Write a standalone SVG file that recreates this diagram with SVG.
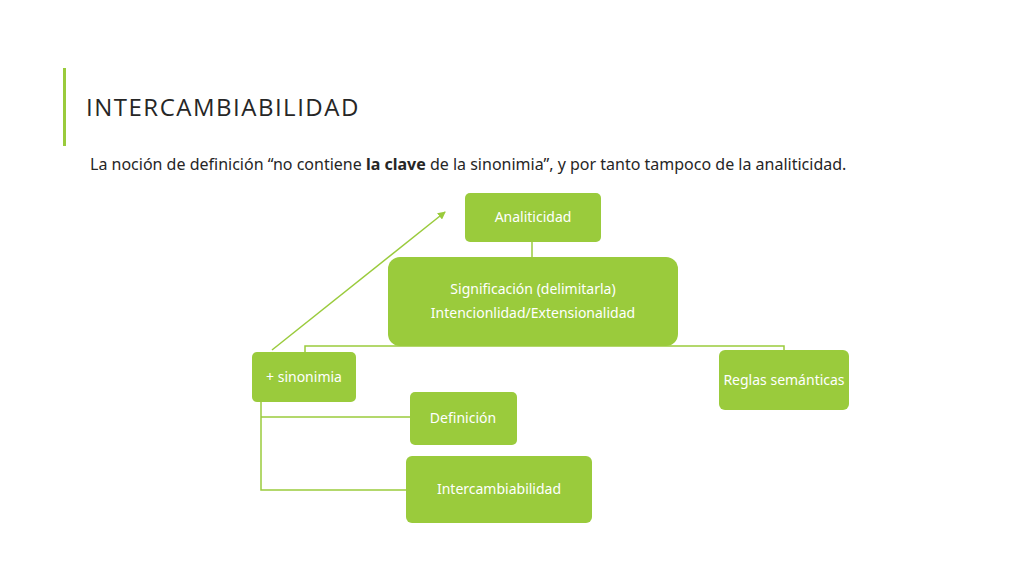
<svg xmlns="http://www.w3.org/2000/svg" width="1024" height="576" viewBox="0 0 1024 576">
<defs>
<style>
.n{fill:#9acb3c}
.t{fill:#fff;font-family:"Noto Sans","Liberation Sans",sans-serif;font-size:14px;text-anchor:middle}
.c{stroke:#9acb3c;stroke-width:1.5;fill:none}
</style>
<marker id="a" markerWidth="8" markerHeight="8" refX="7" refY="4" orient="auto" markerUnits="userSpaceOnUse"><path d="M0,0L8,4L0,8z" fill="#9acb3c"/></marker>
</defs>
<rect width="1024" height="576" fill="#fff"/>
<rect x="63" y="68" width="3" height="78" fill="#9acb3c"/>
<text x="86" y="116" font-family="'Open Sans','Liberation Sans',sans-serif" font-size="24" letter-spacing="1.5" fill="#262626">INTERCAMBIABILIDAD</text>
<text x="90" y="170" font-family="'Noto Sans','Liberation Sans',sans-serif" font-size="16" fill="#262626">La noción de definición “no contiene <tspan font-weight="bold">la clave</tspan> de la sinonimia”, y por tanto tampoco de la analiticidad.</text>
<g id="connectors">
<path class="c" d="M532,242V257"/>
<path class="c" d="M305,352V346H784V350"/>
<path class="c" d="M261,402V490H406M261,417H410"/>
<path class="c" d="M272,350L445,212" marker-end="url(#a)"/>
</g>
<g id="n1"><rect class="n" x="465" y="193" width="136" height="49" rx="5"/><text class="t" x="533" y="222">Analiticidad</text></g>
<g id="n2"><rect class="n" x="388" y="257" width="290" height="89" rx="12"/><text class="t" x="533" y="294">Significación (delimitarla)</text><text class="t" x="533" y="318">Intencionlidad/Extensionalidad</text></g>
<g id="n3"><rect class="n" x="252" y="352" width="104" height="50" rx="5"/><text class="t" x="304" y="382">+ sinonimia</text></g>
<g id="n4"><rect class="n" x="719" y="350" width="130" height="60" rx="6"/><text class="t" x="784" y="385">Reglas semánticas</text></g>
<g id="n5"><rect class="n" x="410" y="392" width="107" height="53" rx="5"/><text class="t" x="463" y="423">Definición</text></g>
<g id="n6"><rect class="n" x="406" y="456" width="186" height="67" rx="6"/><text class="t" x="499" y="494">Intercambiabilidad</text></g>
</svg>
